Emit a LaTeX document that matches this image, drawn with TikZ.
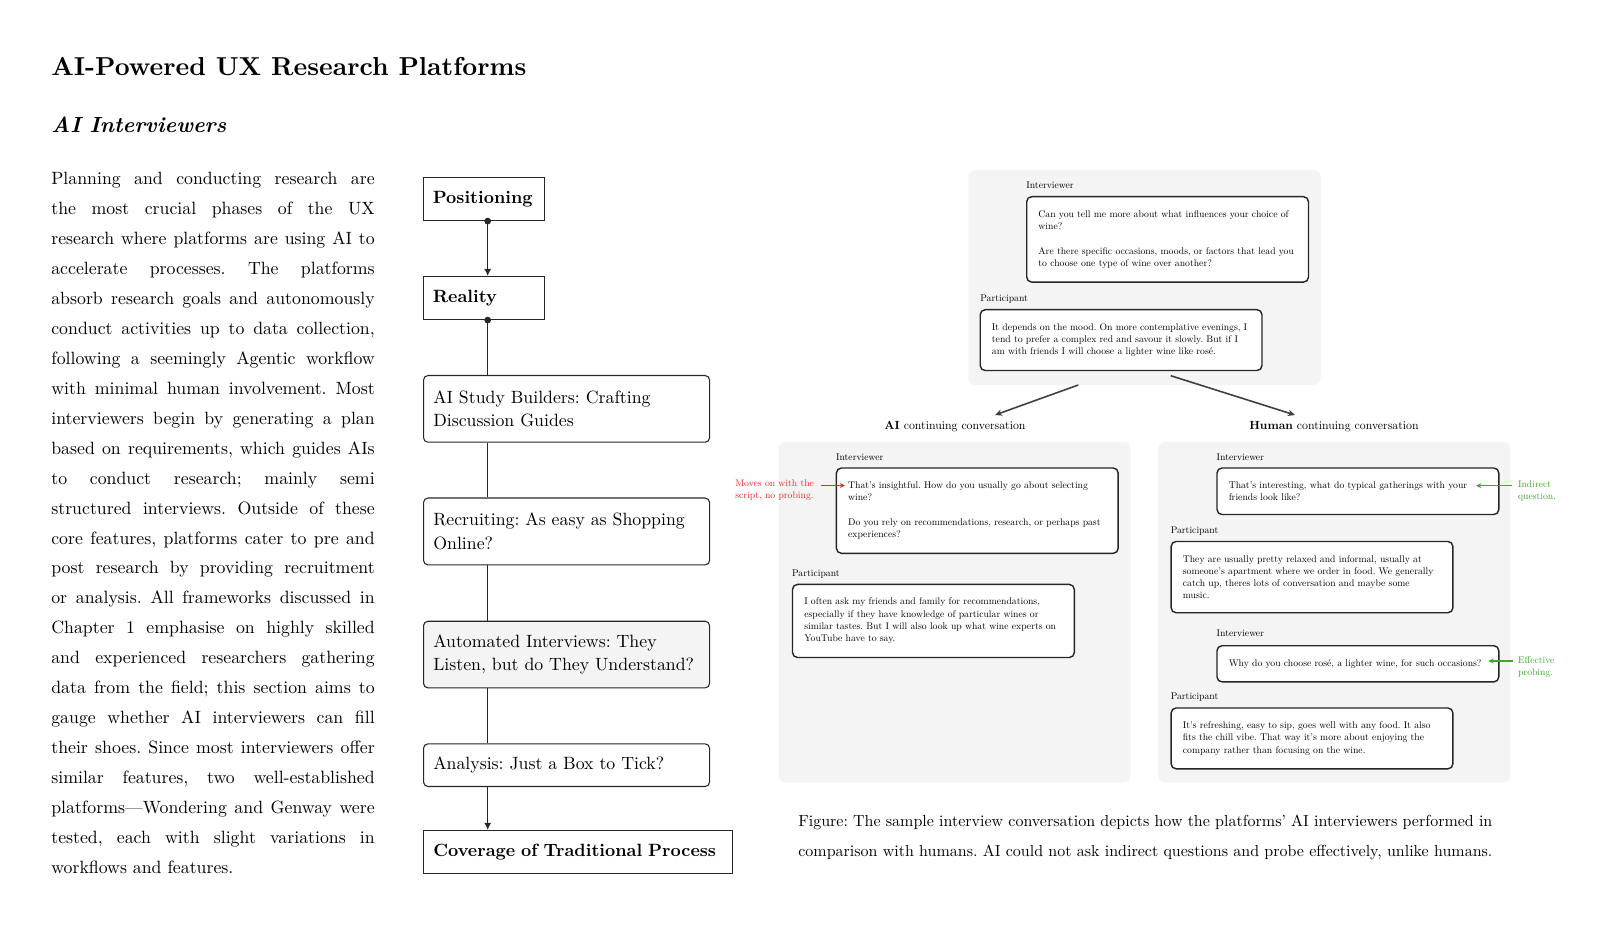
\documentclass[tikz,border=0pt]{standalone}
\usepackage{fontspec}
\newfontfamily\convfont{lmroman10-regular.otf}[Ligatures=TeX,BoldFont=lmroman10-bold.otf,ItalicFont=lmroman10-italic.otf,BoldItalicFont=lmroman10-bolditalic.otf]
\usetikzlibrary{arrows.meta,calc}
\definecolor{panelgray}{RGB}{244,244,244}
\definecolor{notered}{RGB}{232,40,40}
\definecolor{notegreen}{RGB}{60,168,40}
\newcommand\pline[2]{\hbox to #1{\spaceskip=.3333em plus 1em minus .12em\xspaceskip=.3333em plus 1em minus .12em #2}}
\begin{document}
\frenchspacing
\begin{tikzpicture}[x=0.5625pt,y=-0.5625pt,
  convfnt/.style={font=\convfont\frenchspacing\fontsize{5.45}{6.92}\selectfont},
  conv/.style={draw=black!85, line width=0.8pt, rounded corners=2.8pt, fill=white,
    anchor=north west, inner xsep=6.6pt, inner ysep=7.7pt, text width=145.3pt,
    align=left, convfnt},
  who/.style={anchor=base west, inner sep=0pt, convfnt},
  note/.style={anchor=base west, inner sep=0pt, text width=50pt, align=left, convfnt},
  panel/.style={fill=panelgray, rounded corners=4pt},
  flowbox/.style={draw=black!85, line width=0.6pt, anchor=north west, inner xsep=5.5pt,
    inner ysep=0pt, align=left, font=\frenchspacing\fontsize{10}{13.1}\selectfont},
  flowbold/.style={flowbox, font=\frenchspacing\fontsize{10}{13.1}\selectfont\bfseries},
  flowround/.style={flowbox, rounded corners=2.5pt, text width=149.9pt},
  flowline/.style={draw=black!85, line width=0.8pt},
  flowtip/.style={-{Latex[length=4pt,width=4pt]}},
  figarrow/.style={draw=black!75, line width=0.9pt, -{Stealth[length=4pt,width=3.6pt]}},
  notearrow/.style={line width=0.7pt, -{Stealth[length=3pt,width=2.8pt]}},
  textblock/.style={anchor=base west, inner sep=0pt, font=\frenchspacing\fontsize{10}{16.83}\selectfont}
]
\useasboundingbox (0,0) rectangle (1600,936);

% ---------- headings ----------
\node[anchor=base west, inner sep=0pt, font=\convfont\fontsize{14.6}{17}\selectfont\bfseries] (title) at (51,76) {AI-Powered UX Research Platforms};
\node[anchor=base west, inner sep=0pt, font=\convfont\fontsize{12.3}{15}\selectfont\bfseries\itshape] (subtitle) at (51,132.3) {AI Interviewers};

% ---------- paragraph ----------
\node[textblock, text width=181.9pt] (para) at (51,185) {%
\pline{181.9pt}{Planning and conducting research are}
\pline{181.9pt}{the most crucial phases of the UX}
\pline{181.9pt}{research where platforms are using AI to}
\pline{181.9pt}{accelerate processes. The platforms}
\pline{181.9pt}{absorb research goals and autonomously}
\pline{181.9pt}{conduct activities up to data collection,}
\pline{181.9pt}{following a seemingly Agentic workflow}
\pline{181.9pt}{with minimal human involvement. Most}
\pline{181.9pt}{interviewers begin by generating a plan}
\pline{181.9pt}{based on requirements, which guides AIs}
\pline{181.9pt}{to conduct research; mainly semi}
\pline{181.9pt}{structured interviews. Outside of these}
\pline{181.9pt}{core features, platforms cater to pre and}
\pline{181.9pt}{post research by providing recruitment}
\pline{181.9pt}{or analysis. All frameworks discussed in}
\pline{181.9pt}{Chapter 1 emphasise on highly skilled}
\pline{181.9pt}{and experienced researchers gathering}
\pline{181.9pt}{data from the field; this section aims to}
\pline{181.9pt}{gauge whether AI interviewers can fill}
\pline{181.9pt}{their shoes. Since most interviewers offer}
\pline{181.9pt}{similar features, two well-established}
\pline{181.9pt}{platforms---Wondering and Genway were}
\pline{181.9pt}{tested, each with slight variations in}
\pline{181.9pt}{workflows and features.\hfil}};

% ---------- flowchart ----------
\node[flowbold, text width=57.1pt, minimum height=24.2pt] (pos) at (422.5,177) {Positioning};
\node[flowbold, text width=57.1pt, minimum height=24.2pt] (real) at (422.5,276) {Reality};
\node[flowround, minimum height=37.5pt] (study) at (423,375) {AI Study Builders: Crafting\\Discussion Guides};
\node[flowround, minimum height=37.6pt] (recr) at (423,497.5) {Recruiting: As easy as Shopping\\Online?};
\node[flowround, minimum height=37.5pt, fill=panelgray] (auto) at (423,620.7) {Automated Interviews: They\\Listen, but do They Understand?};
\node[flowround, minimum height=24pt] (anal) at (423,743.3) {Analysis: Just a Box to Tick?};
\node[flowbold, text width=163pt, minimum height=24.4pt] (cov) at (423,830) {Coverage of Traditional Process};

\coordinate (lx) at (487.7,0);
\draw[flowline, flowtip] (pos.south -| lx) -- (real.north -| lx);
\fill[black!85] (pos.south -| lx) circle (1.9pt);
\draw[flowline] (real.south -| lx) -- (study.north -| lx);
\fill[black!85] (real.south -| lx) circle (1.9pt);
\draw[flowline] (study.south -| lx) -- (recr.north -| lx);
\draw[flowline] (recr.south -| lx) -- (auto.north -| lx);
\draw[flowline] (auto.south -| lx) -- (anal.north -| lx);
\draw[flowline, flowtip] (anal.south -| lx) -- (cov.north -| lx);

% ---------- conversation figure ----------
\fill[panel] (968.3,170) rectangle (1320.7,385);
\fill[panel] (778.6,441.8) rectangle (1130.6,782.7);
\fill[panel] (1158.2,441.8) rectangle (1510.2,782.7);

% top panel
\node[who] (tql) at (1026,189) {Interviewer};
\node[conv] (tq) at (1026,196) {Can you tell me more about what influences your choice of\\wine?\\[6.92pt]Are there specific occasions, moods, or factors that lead you\\to choose one type of wine over another?};
\node[who] (tpl) at (980,301.7) {Participant};
\node[conv] (tp) at (979.5,309) {It depends on the mood. On more contemplative evenings, I\\tend to prefer a complex red and savour it slowly. But if I\\am with friends I will choose a lighter wine like rosé.};

% branch labels and arrows
\node[anchor=base, inner sep=0pt, font=\convfont\fontsize{6.64}{8}\selectfont] (ailab) at (955,429.6) {\textbf{AI} continuing conversation};
\node[anchor=base, inner sep=0pt, font=\convfont\fontsize{6.64}{8}\selectfont] (humlab) at (1334,429.6) {\textbf{Human} continuing conversation};
\coordinate (as) at (1078.3,385);
\coordinate (ae) at (995,415);
\coordinate (hs) at (1170.7,375.7);
\coordinate (he) at (1295,415);
\draw[figarrow] (as) -- (ae);
\draw[figarrow] (hs) -- (he);

% AI panel
\node[who] (ai1l) at (835.7,460.2) {Interviewer};
\node[conv] (ai1) at (835.7,467.3) {That's insightful. How do you usually go about selecting\\wine?\\[6.92pt]Do you rely on recommendations, research, or perhaps past\\experiences?};
\node[who] (ai2l) at (791.8,576.5) {Participant};
\node[conv] (ai2) at (791.8,583.7) {I often ask my friends and family for recommendations,\\especially if they have knowledge of particular wines or\\similar tastes. But I will also look up what wine experts on\\YouTube have to say.};
\node[note, text=notered] (rednote) at (735,486.5) {Moves on with the\\script, no probing.};
\coordinate (rs) at (820.7,485.5);
\coordinate (re) at (845,485.5);
\draw[notearrow, notered] (rs) -- (re);

% Human panel
\node[who] (h1l) at (1216.3,460.2) {Interviewer};
\node[conv] (h1) at (1216.3,467.3) {That's interesting, what do typical gatherings with your\\friends look like?};
\node[who] (h2l) at (1170.4,533.7) {Participant};
\node[conv] (h2) at (1170.4,540.8) {They are usually pretty relaxed and informal, usually at\\someone's apartment where we order in food. We generally\\catch up, theres lots of conversation and maybe some\\music.};
\node[who] (h3l) at (1216.3,636.7) {Interviewer};
\node[conv] (h3) at (1216.3,645) {Why do you choose rosé, a lighter wine, for such occasions?};
\node[who] (h4l) at (1170.4,699.5) {Participant};
\node[conv] (h4) at (1170.4,707.3) {It's refreshing, easy to sip, goes well with any food. It also\\fits the chill vibe. That way it's more about enjoying the\\company rather than focusing on the wine.};

\node[note, text=notegreen] (gnote1) at (1517.7,487.3) {Indirect\\question.};
\node[note, text=notegreen] (gnote2) at (1517.7,663.3) {Effective\\probing.};
\coordinate (g1s) at (1511.7,485.7);
\coordinate (g1e) at (1476,485.7);
\coordinate (g2s) at (1512.7,661);
\coordinate (g2e) at (1488.3,661);
\draw[notearrow, notegreen] (g1s) -- (g1e);
\draw[notearrow, notegreen] (g2s) -- (g2e);

% ---------- caption ----------
\node[textblock, text width=390.4pt, font=\convfont\frenchspacing\fontsize{9}{16.6}\selectfont] (caption) at (798,826.5) {%
\pline{390.4pt}{Figure: The sample interview conversation depicts how the platforms' AI interviewers performed in}
\pline{390.4pt}{comparison with humans. AI could not ask indirect questions and probe effectively, unlike humans.}};
\end{tikzpicture}
\end{document}
